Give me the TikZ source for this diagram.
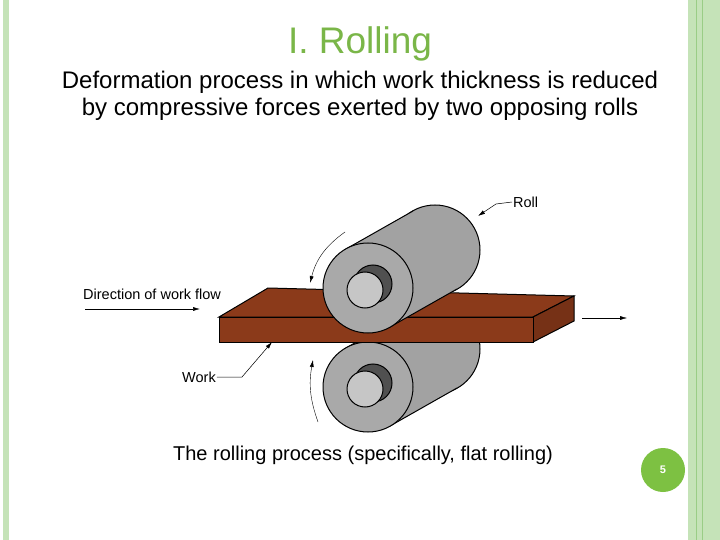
\documentclass[tikz,border=0pt]{standalone}
\usepackage{fontspec}
\setmainfont{Liberation Sans}
\usetikzlibrary{arrows.meta}
\definecolor{gbar}{HTML}{C5E3B8}
\definecolor{gline}{HTML}{9ACD86}
\definecolor{tgreen}{HTML}{7AB648}
\definecolor{pgreen}{HTML}{7DC142}
\definecolor{brown}{HTML}{8B3A1A}
\definecolor{body}{HTML}{A2A2A2}
\definecolor{face}{HTML}{A9A9A9}
\definecolor{hub}{HTML}{C6C6C6}
\definecolor{axle}{HTML}{505050}
\tikzset{
 lbl/.style={font=\fontsize{14.5}{16}\selectfont,inner sep=1pt},
 ptr/.style={-{Latex[length=7pt,width=4pt]},line width=0.5pt},
 ol/.style={draw=black,line width=1pt},
}
\newcommand{\myroll}[2]{%
 \fill[body,ol] (#1+67,#2-38) circle (45);
 \fill[body] (#1+22,#2+39) -- (#1+89,#2+1) -- (#1+45,#2-77) -- (#1-22,#2-39) -- cycle;
 \draw[line width=1pt] (#1+22,#2+39) -- (#1+89,#2+1) (#1+45,#2-77) -- (#1-22,#2-39);
 \fill[face,ol] (#1,#2) circle (45);
 \fill[axle,ol] (#1+5,#2-4) circle (19);
 \fill[hub,ol] (#1-3,#2+2) circle (18);
}
\begin{document}
\begin{tikzpicture}[x=1pt,y=-1pt]
\useasboundingbox (0,0) rectangle (720,540);
\fill[white] (0,0) rectangle (720,540);
\fill[gbar] (3,0) rectangle (9,540);
\fill[gbar] (688,0) rectangle (720,540);
\draw[gline,line width=1pt] (696,0) -- (696,540) (702,0) -- (702,540);
\node[font=\fontsize{37}{40}\selectfont,text=tgreen,anchor=base] (title) at (360,54) {I. Rolling};
\node[align=center,font=\fontsize{24}{27}\selectfont] (def) at (360,96) {Deformation process in which work thickness is reduced\\ by compressive forces exerted by two opposing rolls};
% lower roll
\myroll{368}{387}
% plate
\fill[brown,ol] (219,317) -- (268,288) -- (574,296) -- (533,317) -- cycle;
\fill[brown!85!black,ol] (533,317) -- (574,296) -- (574,321) -- (533,342) -- cycle;
\fill[brown,ol] (219,317) rectangle (533,342);
% upper roll
\myroll{368}{288}
% arrows
\draw[ptr,line width=0.4pt] (345,232) to[bend right=20] (310,283);
\draw[ptr,line width=0.4pt] (318,422) to[bend left=15] (313,360);
\node[lbl,anchor=west] (roll) at (512,202) {Roll};
\coordinate (rolltip) at (478,216);
\draw[ptr] (roll.west) -- (496,204) -- (rolltip);
\node[lbl,anchor=west] (work) at (181,377) {Work};
\coordinate (worktip) at (272,342);
\draw[ptr] (work.east) -- (242,377) -- (worktip);
\node[lbl,anchor=west] (flow) at (82,294) {Direction of work flow};
\coordinate (fa) at (85,309); \coordinate (fb) at (200,309);
\draw[ptr] (fa) -- (fb);
\coordinate (oa) at (582,318); \coordinate (ob) at (627,318);
\draw[ptr,line width=0.4pt] (oa) -- (ob);
\node[font=\fontsize{20}{24}\selectfont] (cap) at (363,455) {The rolling process (specifically, flat rolling)};
\fill[pgreen] (663,470) circle (22);
\node[text=white,font=\bfseries\fontsize{11}{12}\selectfont] (pg) at (663,470) {5};
\end{tikzpicture}
\end{document}
